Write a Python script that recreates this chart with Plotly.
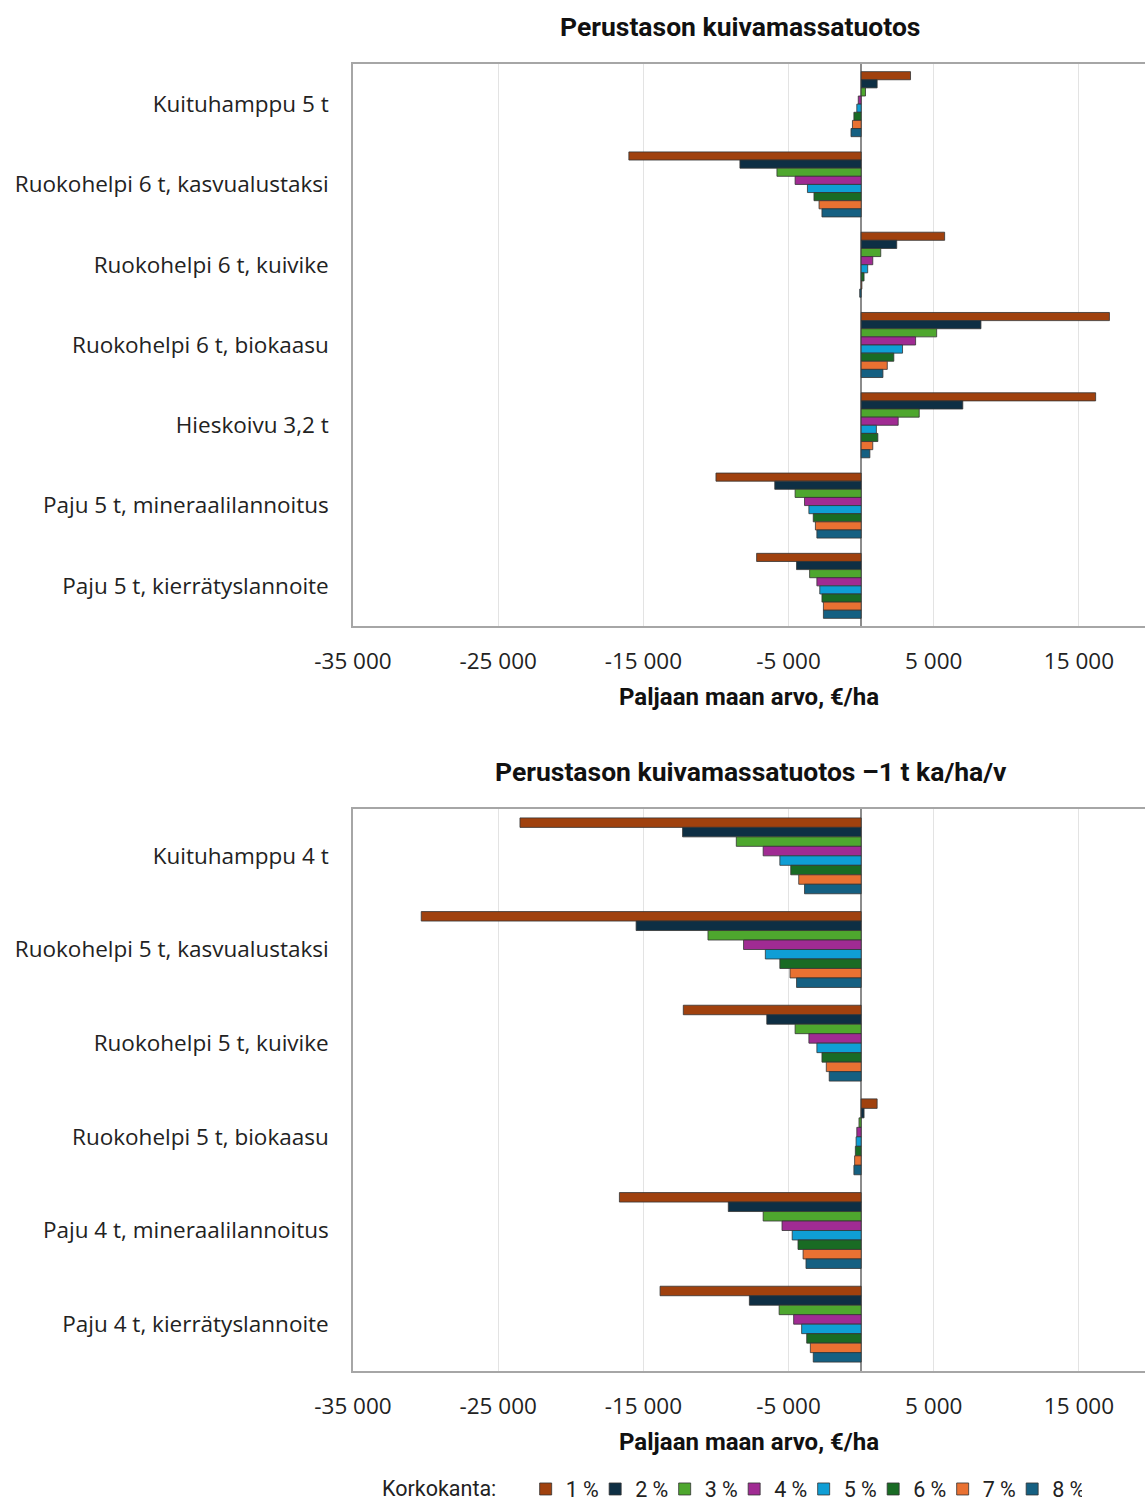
import plotly.graph_objects as go

rates = ["1 %", "2 %", "3 %", "4 %", "5 %", "6 %", "7 %", "8 %"]
colors = ["#A0410E", "#0E2F44", "#4EA72E", "#A02B93", "#0F9ED5", "#196B24", "#E97132", "#156082"]

cats_top = [
    "Kuituhamppu 5 t",
    "Ruokohelpi 6 t, kasvualustaksi",
    "Ruokohelpi 6 t, kuivike",
    "Ruokohelpi 6 t, biokaasu",
    "Hieskoivu 3,2 t",
    "Paju 5 t, mineraalilannoitus",
    "Paju 5 t, kierrätyslannoite",
]
# values per category, rates 1..8 %
top_kuituhamppu = [3400, 1100, 300, -200, -300, -500, -600, -700]
top_rh_kasvu = [-16000, -8350, -5800, -4550, -3700, -3250, -2900, -2700]
top_rh_kuivike = [5750, 2450, 1350, 800, 450, 200, 50, -100]
top_rh_biokaasu = [17100, 8250, 5200, 3750, 2850, 2250, 1800, 1500]
top_hieskoivu = [16150, 7000, 4000, 2550, 1050, 1150, 800, 600]
top_paju_min = [-10000, -5950, -4550, -3900, -3600, -3300, -3150, -3050]
top_paju_kierr = [-7200, -4450, -3550, -3050, -2850, -2700, -2600, -2600]

cats_bot = [
    "Kuituhamppu 4 t",
    "Ruokohelpi 5 t, kasvualustaksi",
    "Ruokohelpi 5 t, kuivike",
    "Ruokohelpi 5 t, biokaasu",
    "Paju 4 t, mineraalilannoitus",
    "Paju 4 t, kierrätyslannoite",
]
bot_kuituhamppu = [-23500, -12300, -8600, -6750, -5600, -4850, -4300, -3900]
bot_rh_kasvu = [-30300, -15500, -10550, -8100, -6600, -5600, -4900, -4450]
bot_rh_kuivike = [-12250, -6500, -4550, -3600, -3050, -2700, -2400, -2200]
bot_rh_biokaasu = [1100, 200, -150, -300, -350, -400, -450, -500]
bot_paju_min = [-16650, -9150, -6750, -5450, -4750, -4350, -4000, -3800]
bot_paju_kierr = [-13850, -7700, -5650, -4650, -4100, -3750, -3500, -3300]

title_top = "Perustason kuivamassatuotos"
title_bot = "Perustason kuivamassatuotos –1 t ka/ha/v"
x_title = "Paljaan maan arvo, €/ha"
legend_title = "Korkokanta:"
xtick_vals = [-35000, -25000, -15000, -5000, 5000, 15000]
xtick_text = ["-35 000", "-25 000", "-15 000", "-5 000", "5 000", "15 000"]

top_rows = [top_kuituhamppu, top_rh_kasvu, top_rh_kuivike, top_rh_biokaasu,
            top_hieskoivu, top_paju_min, top_paju_kierr]
bot_rows = [bot_kuituhamppu, bot_rh_kasvu, bot_rh_kuivike, bot_rh_biokaasu,
            bot_paju_min, bot_paju_kierr]

fig = go.Figure()
for i, r in enumerate(rates):
    fig.add_trace(go.Bar(
        y=cats_top, x=[row[i] for row in top_rows], orientation="h",
        name=r, marker=dict(color=colors[i], line=dict(color="#333333", width=0.8)),
        xaxis="x", yaxis="y", showlegend=True,
    ))
for i, r in enumerate(rates):
    fig.add_trace(go.Bar(
        y=cats_bot, x=[row[i] for row in bot_rows], orientation="h",
        name=r, marker=dict(color=colors[i], line=dict(color="#333333", width=0.8)),
        xaxis="x2", yaxis="y2", showlegend=False,
    ))

W = 1145
H = 1501
L = 353
t_margin = 64
b_margin = 130
plot_h = H - t_margin - b_margin
y1_bottom = (1371 - 626) / plot_h
y2_top = (1371 - 809) / plot_h

label_font = dict(family="Open Sans, Noto Sans, sans-serif", size=22.5, color="#222222")
tick_font = dict(family="Open Sans, Noto Sans, sans-serif", size=22.5, color="#222222")
axis_title_font = dict(family="Roboto, Liberation Sans, sans-serif", size=24, color="#111111", weight="bold")
title_font = dict(family="Roboto, Liberation Sans, sans-serif", size=26.5, color="#111111", weight="bold")
legend_font = dict(family="Roboto, Liberation Sans, sans-serif", size=21.5, color="#222222")

xaxis_common = dict(
    range=[-35000, 19550], tickvals=xtick_vals, ticktext=xtick_text,
    showgrid=True, gridcolor="#E3E3E3", gridwidth=1,
    zeroline=True, zerolinecolor="#8C8C8C", zerolinewidth=1.5,
    showline=True, linecolor="#A6A6A6", linewidth=1.5, mirror=True,
    ticks="", tickfont=tick_font, ticklabelstandoff=14,
    automargin=False,
)
yaxis_common = dict(
    autorange="reversed", showline=True, linecolor="#A6A6A6", linewidth=1.5,
    ticks="", tickfont=label_font, ticklabelstandoff=18, showgrid=False,
    automargin=False,
)

fig.update_layout(
    width=W, height=H,
    margin=dict(l=L, r=0, t=t_margin, b=b_margin, autoexpand=False),
    paper_bgcolor="white", plot_bgcolor="white",
    barmode="group", bargap=0.19, bargroupgap=0,
    xaxis=dict(domain=[0, 1], anchor="y",
               title=dict(text=x_title, font=axis_title_font, standoff=13), **xaxis_common),
    yaxis=dict(domain=[y1_bottom, 1], anchor="x", **yaxis_common),
    xaxis2=dict(domain=[0, 1], anchor="y2",
                title=dict(text=x_title, font=axis_title_font, standoff=13), **xaxis_common),
    yaxis2=dict(domain=[0, y2_top], anchor="x2", **yaxis_common),
    legend=dict(
        orientation="h", xref="container", yref="container",
        x=380 / W, xanchor="left", y=1 - 1489 / H, yanchor="middle",
        title=dict(text=legend_title + "\u00a0\u00a0\u00a0\u00a0", side="left", font=legend_font),
        font=legend_font,
        entrywidth=24.5, entrywidthmode="pixels", itemwidth=30,
        traceorder="normal", bgcolor="rgba(0,0,0,0)",
    ),
    annotations=[
        dict(text=title_top, x=740 / W, y=1 - 26 / H, xref="paper", yref="paper",
             showarrow=False, font=title_font),
        dict(text=title_bot, x=751 / W, y=1 - 771 / H, xref="paper", yref="paper",
             showarrow=False, font=title_font),
    ],
)
# annotation positions: convert page-fraction to plot-area paper fraction
plot_w = W - L
for ann in fig.layout.annotations:
    px = ann.x * W
    py = (1 - ann.y) * H
    ann.x = (px - L) / plot_w
    ann.y = (H - b_margin - py) / plot_h
    ann.xanchor = "center"
    ann.yanchor = "middle"

fig.write_html("out.html")
